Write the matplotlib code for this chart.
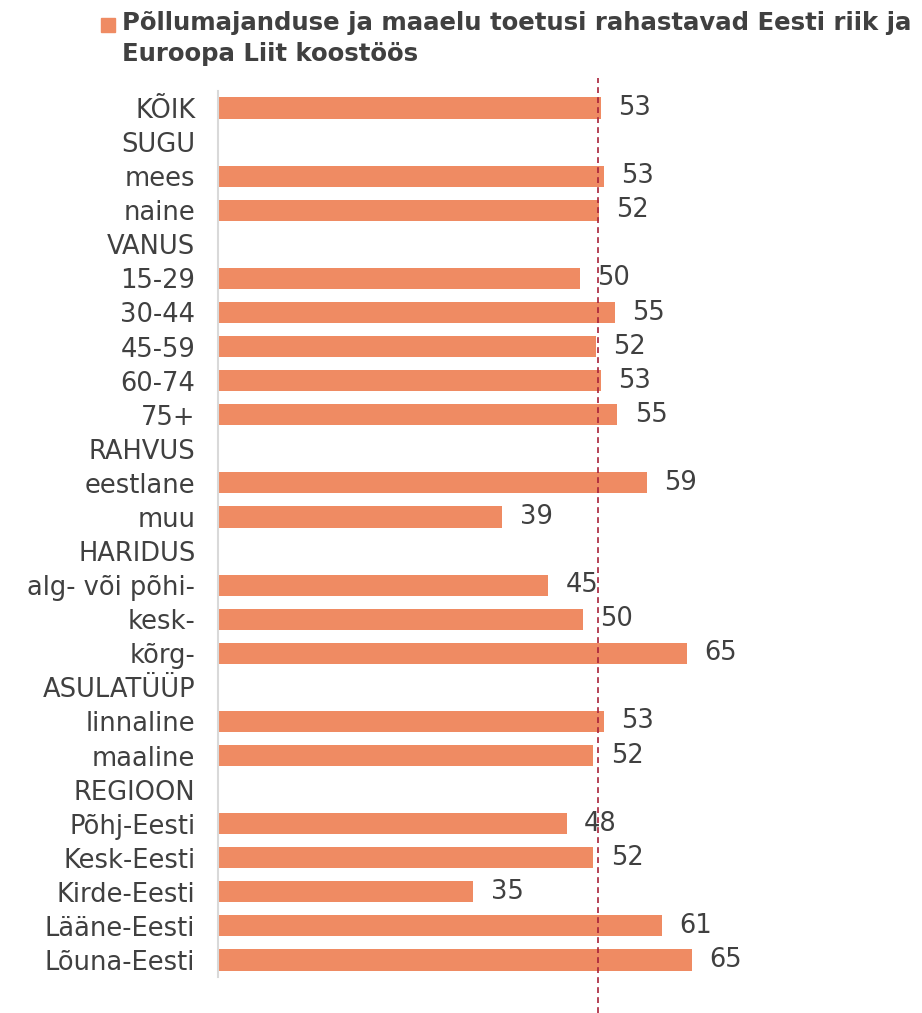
import numpy as np
import matplotlib
matplotlib.use("Agg")
import matplotlib.pyplot as plt
from matplotlib.patches import Rectangle

# categories top to bottom; group headers have no bar (NaN)
labels = ["KÕIK", "SUGU", "mees", "naine", "VANUS", "15-29", "30-44", "45-59",
          "60-74", "75+", "RAHVUS", "eestlane", "muu", "HARIDUS",
          "alg- või põhi-", "kesk-", "kõrg-", "ASULATÜÜP", "linnaline",
          "maaline", "REGIOON", "Põhj-Eesti", "Kesk-Eesti", "Kirde-Eesti",
          "Lääne-Eesti", "Lõuna-Eesti"]
values = [52.74, np.nan, 53.15, 52.41, np.nan, 49.85, 54.61, 52.05,
          52.74, 54.98, np.nan, 59.01, 39.20, np.nan,
          45.45, 50.21, 64.55, np.nan, 53.15,
          51.68, np.nan, 48.01, 51.68, 35.17,
          61.13, 65.25]
average = 52.39
legend_lines = ["Põllumajanduse ja maaelu toetusi rahastavad Eesti riik ja",
                "Euroopa Liit koostöös"]

bar_color = "#EF8B63"
text_color = "#404040"
line_color = "#A8213A"

plt.rcParams['font.family'] = ['DejaVu Sans']

W, H = 922, 1013
fig = plt.figure(figsize=(W / 100, H / 100), dpi=100)
ax = fig.add_axes([217.5 / W, (H - 977) / H, 1 - 217.5 / W, (977 - 91) / H])

y = np.arange(len(labels))
vals = np.array(values)
ax.barh(y, vals, height=0.62, color=bar_color, edgecolor="none")

for yi, v in zip(y, vals):
    if np.isnan(v):
        continue
    ax.annotate(f"{v:.0f}", xy=(v, yi), xytext=(12.5, 0), textcoords="offset points",
                ha="left", va="center", fontsize=18.5, color=text_color)

# average reference line, running past the plot area
ax.plot([average, average], [-0.041, 1.015], transform=ax.get_xaxis_transform(),
        color=line_color, lw=1.2, ls=(0, (3.5, 2.5)), clip_on=False, zorder=3)

ax.set_xlim(0, (W - 217.5) / 7.27)
ax.set_ylim(len(labels) - 0.5, -0.5)
ax.set_yticks(y)
ax.set_yticklabels(labels, fontsize=18.5, color=text_color)
ax.tick_params(axis="y", length=0, pad=16)
ax.set_xticks([])
for s in ["top", "right", "bottom"]:
    ax.spines[s].set_visible(False)
ax.spines["left"].set_color("#D9D9D9")
ax.spines["left"].set_linewidth(1.5)

# legend drawn by hand
fig.patches.append(Rectangle((101 / W, (H - 32) / H), 14 / W, 14 / H,
                             transform=fig.transFigure, color=bar_color))
fig.text(122 / W, (H - 30) / H, legend_lines[0], fontsize=17.6, fontweight="bold",
         color=text_color, va="baseline", ha="left")
fig.text(122 / W, (H - 61) / H, legend_lines[1], fontsize=17.6, fontweight="bold",
         color=text_color, va="baseline", ha="left")

fig.savefig("out.png", dpi=100)
